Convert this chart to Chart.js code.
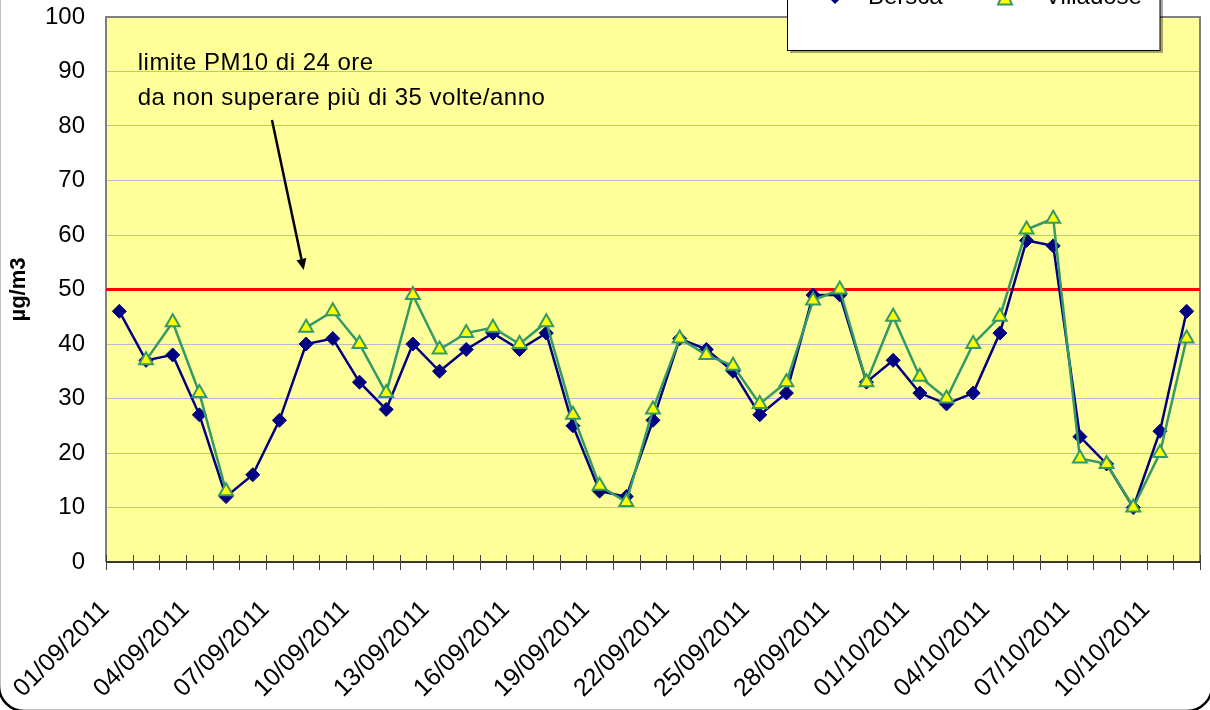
<!DOCTYPE html>
<html><head><meta charset="utf-8">
<script src="https://cdn.jsdelivr.net/npm/chart.js@4/dist/chart.umd.min.js"></script>
<style>html,body{margin:0;padding:0;background:#fff;overflow:hidden}#wrap{width:1210px;height:710px;position:relative}</style>
</head><body><div id="wrap"><canvas id="c" width="1210" height="710"></canvas></div>
<script>
// ---------- DATA ----------
const dates = [
 '01/09/2011','02/09/2011','03/09/2011','04/09/2011','05/09/2011','06/09/2011','07/09/2011',
 '08/09/2011','09/09/2011','10/09/2011','11/09/2011','12/09/2011','13/09/2011','14/09/2011',
 '15/09/2011','16/09/2011','17/09/2011','18/09/2011','19/09/2011','20/09/2011','21/09/2011',
 '22/09/2011','23/09/2011','24/09/2011','25/09/2011','26/09/2011','27/09/2011','28/09/2011',
 '29/09/2011','30/09/2011','01/10/2011','02/10/2011','03/10/2011','04/10/2011','05/10/2011',
 '06/10/2011','07/10/2011','08/10/2011','09/10/2011','10/10/2011','11/10/2011'
];
const bersca = [46,37,38,27,12,16,26,40,41,33,28,40,35,39,42,39,42,25,13,12,26,41,39,35,27,31,49,49,33,37,31,29,31,42,59,58,23,18,10,24,46];
const villadose = [null,37,44,31,13,null,null,43,46,40,31,49,39,42,43,40,44,27,14,11,28,41,38,36,29,33,48,50,33,45,34,30,40,45,61,63,19,18,10,20,41];
const seriesNames = ['Bersca','Villadose'];
const yMin = 0, yMax = 100, yStep = 10;
const limitValue = 50;
const yTitle = 'µg/m3';
const noteLines = ['limite PM10 di 24 ore','da non superare più di 35 volte/anno'];
const labelEvery = 3;

// annotation anchors (in data units: category index, value)
const noteAnchor = {index:0.69, values:[90.3, 83.85]};
const arrowTail = {index:5.72, value:81.1};
const arrowTip = {index:6.91, value:53.6};

// ---------- STYLE ----------
const FONT = "'Liberation Sans', Arial, sans-serif";
const NAVY = '#000080', GREEN = '#339966', YEL = '#FFFF00';

const plotBg = {
  id:'plotBg',
  beforeDraw(chart){
    const {ctx, chartArea:a} = chart;
    ctx.save(); ctx.fillStyle = '#FFFF99';
    ctx.fillRect(a.left, a.top, a.right-a.left, a.bottom-a.top);
    ctx.restore();
  },
  beforeDatasetsDraw(chart){
    const {ctx, chartArea:a, scales:{x,y}} = chart;
    ctx.save();
    // frame
    ctx.strokeStyle = '#808080'; ctx.lineWidth = 2;
    ctx.beginPath();
    ctx.moveTo(a.left, a.bottom); ctx.lineTo(a.left, a.top); ctx.lineTo(a.right, a.top); ctx.lineTo(a.right, a.bottom);
    ctx.stroke();
    ctx.strokeStyle = '#000'; ctx.lineWidth = 1.5;
    ctx.beginPath(); ctx.moveTo(a.left, a.bottom); ctx.lineTo(a.right, a.bottom); ctx.stroke();
    // x tick marks at category boundaries
    ctx.strokeStyle = '#404040'; ctx.lineWidth = 1;
    for (let i = 0; i <= dates.length; i++) {
      const px = Math.round(x.getPixelForValue(i - 0.5)) + 0.5;
      ctx.beginPath(); ctx.moveTo(px, a.bottom - 7); ctx.lineTo(px, a.bottom + 8); ctx.stroke();
    }
    // limit line
    const ly = y.getPixelForValue(limitValue);
    ctx.strokeStyle = '#FF0000'; ctx.lineWidth = 3;
    ctx.beginPath(); ctx.moveTo(a.left, ly); ctx.lineTo(a.right, ly); ctx.stroke();
    ctx.restore();
  },
  afterDatasetsDraw(chart){
    const {ctx, scales:{x,y}} = chart;
    ctx.save();
    ctx.fillStyle = '#000';
    ctx.font = "24px " + FONT;
    try { ctx.letterSpacing = '0.5px'; } catch(e) {}
    ctx.textAlign = 'left'; ctx.textBaseline = 'alphabetic';
    const tx = x.getPixelForValue(noteAnchor.index);
    noteLines.forEach((t,i)=> ctx.fillText(t, tx, y.getPixelForValue(noteAnchor.values[i])));
    try { ctx.letterSpacing = '0px'; } catch(e) {}
    // arrow
    const x1 = x.getPixelForValue(arrowTail.index), y1 = y.getPixelForValue(arrowTail.value);
    const x2 = x.getPixelForValue(arrowTip.index), y2 = y.getPixelForValue(arrowTip.value);
    ctx.strokeStyle = '#000'; ctx.lineWidth = 2.5;
    const ang = Math.atan2(y2-y1, x2-x1);
    const hl = 11, hw = 5;
    const bx = x2 - Math.cos(ang)*hl, by = y2 - Math.sin(ang)*hl;
    ctx.beginPath(); ctx.moveTo(x1,y1); ctx.lineTo(bx,by); ctx.stroke();
    ctx.beginPath();
    ctx.moveTo(x2,y2);
    ctx.lineTo(bx + Math.sin(ang)*hw, by - Math.cos(ang)*hw);
    ctx.lineTo(bx - Math.sin(ang)*hw, by + Math.cos(ang)*hw);
    ctx.closePath(); ctx.fill();
    ctx.restore();
  },
  afterDraw(chart){
    const {ctx} = chart;
    ctx.save();
    // legend box (partly above the picture)
    ctx.fillStyle = 'rgba(0,0,0,0.35)';
    ctx.fillRect(790, -20, 373, 73);
    ctx.fillStyle = '#fff';
    ctx.fillRect(787.5, -20, 372.5, 70.5);
    ctx.strokeStyle = '#000'; ctx.lineWidth = 1;
    ctx.strokeRect(787.5, -20, 372.5, 70.5);
    // markers
    const cy = -3;
    ctx.fillStyle = NAVY; ctx.strokeStyle = NAVY;
    ctx.beginPath(); ctx.moveTo(828, cy); ctx.lineTo(835, cy-7); ctx.lineTo(842, cy); ctx.lineTo(835, cy+7); ctx.closePath(); ctx.fill();
    ctx.beginPath(); ctx.moveTo(1005, cy-8); ctx.lineTo(1012, cy+7.5); ctx.lineTo(998, cy+7.5); ctx.closePath();
    ctx.fillStyle = YEL; ctx.fill(); ctx.strokeStyle = GREEN; ctx.lineWidth = 2; ctx.stroke();
    ctx.fillStyle = '#000'; ctx.font = "24px " + FONT; ctx.textBaseline = 'alphabetic'; ctx.textAlign = 'left';
    ctx.fillText(seriesNames[0], 868, 4);
    ctx.fillText(seriesNames[1], 1045, 4);
    // outer rounded frame
    ctx.strokeStyle = '#000'; ctx.lineWidth = 2.5;
    ctx.beginPath();
    if (ctx.roundRect) ctx.roundRect(-1, -60, 1213, 771, 25); else ctx.rect(-1,-60,1213,771);
    ctx.stroke();
    ctx.restore();
  }
};

Chart.defaults.font.family = FONT;
Chart.defaults.color = '#000';

new Chart(document.getElementById('c'), {
  type: 'line',
  data: {
    labels: dates,
    datasets: [
      { label: seriesNames[0], data: bersca, order: 1,
        borderColor: NAVY, backgroundColor: NAVY, borderWidth: 2.5, tension: 0,
        pointStyle: 'rectRot', pointRadius: 7, pointBorderWidth: 1,
        pointBackgroundColor: NAVY, pointBorderColor: NAVY, spanGaps: false },
      { label: seriesNames[1], data: villadose, order: 0,
        borderColor: GREEN, backgroundColor: YEL, borderWidth: 2.5, tension: 0,
        pointStyle: 'triangle', pointRadius: 8, pointBorderWidth: 2,
        pointBackgroundColor: YEL, pointBorderColor: GREEN, spanGaps: false }
    ]
  },
  options: {
    responsive: false, animation: false, devicePixelRatio: 1,
    layout: { padding: { left: 0, top: 17, right: 3, bottom: 0 } },
    plugins: { legend: { display: false }, tooltip: { enabled: false } },
    scales: {
      x: {
        type: 'category', offset: true,
        grid: { display: false, drawTicks: false },
        border: { display: false },
        ticks: {
          autoSkip: false, maxRotation: 45, minRotation: 45, padding: 33, labelOffset: -14,
          color: '#000', font: { size: 25 },
          callback(v, i) { return i % labelEvery === 0 ? this.getLabelForValue(v) : ''; }
        },
        afterFit(s) { s.height = 148; s.paddingLeft = 0; s.paddingRight = 0; s.paddingTop = 0; s.paddingBottom = 0; }
      },
      y: {
        min: yMin, max: yMax,
        ticks: { stepSize: yStep, padding: 21, color: '#000', font: { size: 24 } },
        grid: { color: 'rgb(186,186,206)', lineWidth: 1, drawTicks: false },
        border: { display: false },
        title: { display: true, text: yTitle, color: '#000', font: { size: 22, weight: 'bold' }, padding: { top: 6, bottom: 0 } },
        afterFit(s) { s.width = 106; s.paddingTop = 0; s.paddingBottom = 0; s.paddingLeft = 0; s.paddingRight = 0; }
      }
    }
  },
  plugins: [plotBg]
});
</script>
</body></html>
